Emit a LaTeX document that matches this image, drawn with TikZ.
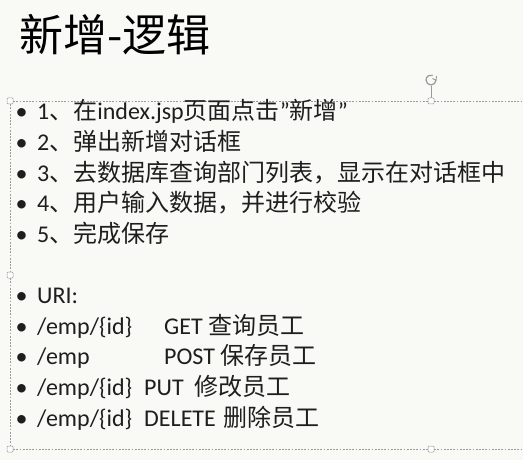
\documentclass[tikz,border=0pt]{standalone}
\usepackage{fontspec}
\setmainfont{Carlito}
\newfontfamily\cjk{Noto Sans CJK SC}
\newcommand\zh[1]{{\cjk #1}}
\definecolor{bg}{HTML}{F9FAF6}
\definecolor{ink}{HTML}{1E1E1E}
\definecolor{framec}{HTML}{9A9A9A}
\begin{document}
\begin{tikzpicture}[x=1pt,y=-1pt,
  txt/.style={anchor=base west, inner sep=0pt, font=\fontsize{24}{29}\selectfont, text=ink},
  bul/.style={anchor=base, inner sep=0pt, font=\fontsize{24}{29}\selectfont, text=ink},
  handle/.style={draw=framec, fill=white, rounded corners=1pt, minimum size=6pt, inner sep=0pt, line width=0.5pt},
  selframe/.style={draw=framec, line width=0.6pt, dash pattern=on 1.8pt off 1.4pt}]
\useasboundingbox[fill=bg] (0,0) rectangle (523,460);

% title
\node[anchor=base west, inner sep=0pt, font=\fontsize{44}{50}\selectfont\cjk, text=black] (title) at (19,52) {新增-逻辑};

% selection frame
\coordinate (tr) at (530,101);
\coordinate (br) at (530,449);
\node[handle] (htl) at (10,101) {};
\node[handle] (htm) at (431,101) {};
\node[handle] (hml) at (10,275) {};
\node[handle] (hbl) at (10,449) {};
\node[handle] (hbm) at (431,449) {};
\draw[selframe] (htl.east) -- (htm.west);
\draw[selframe] (htm.east) -- (tr);
\draw[selframe] (htl.south) -- (hml.north);
\draw[selframe] (hml.south) -- (hbl.north);
\draw[selframe] (hbl.east) -- (hbm.west);
\draw[selframe] (hbm.east) -- (br);
% rotation handle
\coordinate (rot) at (431,80);
\draw[framec, line width=0.6pt] (htm.north) -- (431,86.5);
\draw[framec, line width=1.2pt] (436,80) arc[start angle=0, end angle=290, radius=5];
\draw[framec, line width=0.9pt] (436.5,76) -- (436,80.3) -- (432.5,78.5);

% bullets
\foreach \n/\y in {1/120,2/150.6,3/181.2,4/211.8,5/242.4,6/303.6,7/334.2,8/364.8,9/395.4,10/426}{
  \node[bul] (b\n) at (21.5,\y) {•};
}

% steps
\node[txt] (l1) at (37,120) {1\zh{、在}index.jsp\zh{页面点击}”\zh{新增}”};
\node[txt] (l2) at (37,150.6) {2\zh{、弹出新增对话框}};
\node[txt] (l3) at (37,181.2) {3\zh{、去数据库查询部门列表，显示在对话框中}};
\node[txt] (l4) at (37,211.8) {4\zh{、用户输入数据，并进行校验}};
\node[txt] (l5) at (37,242.4) {5\zh{、完成保存}};

% URIs
\node[txt] (u0) at (37,303.6) {URI:};
\node[txt] (u1) at (37,334.2) {/emp/\{id\}};
\node[txt] (m1) at (164,334.2) {GET \zh{查询员工}};
\node[txt] (u2) at (37,364.8) {/emp};
\node[txt] (m2) at (164,364.8) {POST \zh{保存员工}};
\node[txt] (u3) at (37,395.4) {/emp/\{id\}};
\node[txt] (m3) at (144,395.4) {PUT\hspace{11pt}\zh{修改员工}};
\node[txt] (u4) at (37,426) {/emp/\{id\}};
\node[txt] (m4) at (144,426) {DELETE\hspace{8pt}\zh{删除员工}};
\end{tikzpicture}
\end{document}
